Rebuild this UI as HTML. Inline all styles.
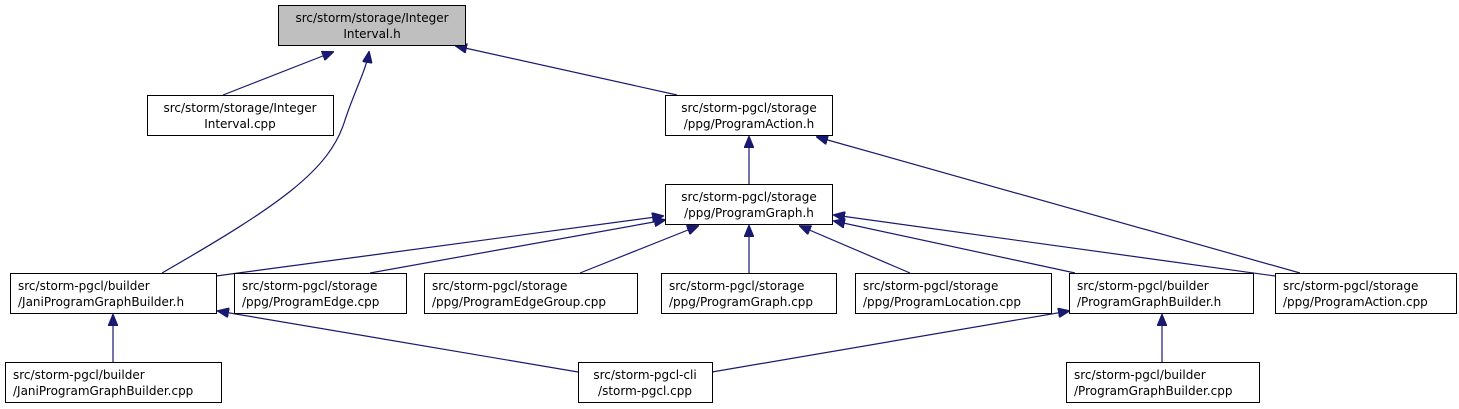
<!DOCTYPE html>
<html><head><meta charset="utf-8"><style>
html,body{margin:0;padding:0;background:#fff;width:1459px;height:409px;overflow:hidden}
text{font-family:"DejaVu Sans","Liberation Sans",sans-serif;font-size:12px;fill:#000}
</style></head><body>
<svg width="1459" height="409" viewBox="0 0 1459 409" xmlns="http://www.w3.org/2000/svg">
<defs><marker id="a" markerWidth="12" markerHeight="10" refX="11" refY="5" orient="auto" markerUnits="userSpaceOnUse"><path d="M0,0 L12,5 L0,10 z" fill="#191970" stroke="#191970"/></marker></defs>
<g stroke="#191970" stroke-width="1.2" fill="none" marker-end="url(#a)">
<line x1="223" y1="95" x2="333" y2="52"/>
<path d="M162,273 C280,205 330,170 345,120 C355,90 366,70 369,52"/>
<line x1="677" y1="95" x2="456" y2="46"/>
<line x1="749" y1="184" x2="749" y2="137"/>
<line x1="1300" y1="273" x2="817" y2="137"/>
<line x1="216" y1="276" x2="663" y2="216"/>
<line x1="370" y1="273" x2="665" y2="220"/>
<line x1="580" y1="273" x2="698" y2="226"/>
<line x1="749" y1="273" x2="749" y2="226"/>
<line x1="910" y1="273" x2="800" y2="226"/>
<line x1="1075" y1="273" x2="834" y2="221"/>
<line x1="1275" y1="276" x2="834" y2="215"/>
<line x1="113" y1="362" x2="113" y2="315"/>
<line x1="578" y1="372" x2="218" y2="311"/>
<line x1="712" y1="372" x2="1069" y2="311"/>
<line x1="1162" y1="362" x2="1162" y2="315"/>
</g>
<g stroke="#000" stroke-width="1" fill="#fff">
<rect x="278.5" y="5.5" width="187" height="40" fill="#bfbfbf"/>
<rect x="147.5" y="95.5" width="186" height="40"/>
<rect x="665.5" y="95.5" width="167" height="40"/>
<rect x="665.5" y="184.5" width="167" height="40"/>
<rect x="10.5" y="273.5" width="206" height="40"/>
<rect x="234.5" y="273.5" width="172" height="40"/>
<rect x="424.5" y="273.5" width="213" height="40"/>
<rect x="661.5" y="273.5" width="175" height="40"/>
<rect x="855.5" y="273.5" width="196" height="40"/>
<rect x="1069.5" y="273.5" width="184" height="40"/>
<rect x="1275.5" y="273.5" width="181" height="40"/>
<rect x="5.5" y="362.5" width="216" height="40"/>
<rect x="578.5" y="362.5" width="134" height="40"/>
<rect x="1066.5" y="362.5" width="193" height="40"/>
</g>
<g text-anchor="middle">
<text x="372" y="22">src/storm/storage/Integer</text><text x="372" y="38">Interval.h</text>
<text x="240" y="112">src/storm/storage/Integer</text><text x="240" y="128">Interval.cpp</text>
<text x="749" y="112">src/storm-pgcl/storage</text><text x="749" y="128">/ppg/ProgramAction.h</text>
<text x="749" y="201">src/storm-pgcl/storage</text><text x="749" y="217">/ppg/ProgramGraph.h</text>
<text x="645" y="379">src/storm-pgcl-cli</text><text x="645" y="395">/storm-pgcl.cpp</text>
</g>
<g>
<text x="18" y="290">src/storm-pgcl/builder</text><text x="18" y="306">/JaniProgramGraphBuilder.h</text>
<text x="242" y="290">src/storm-pgcl/storage</text><text x="242" y="306">/ppg/ProgramEdge.cpp</text>
<text x="432" y="290">src/storm-pgcl/storage</text><text x="432" y="306">/ppg/ProgramEdgeGroup.cpp</text>
<text x="669" y="290">src/storm-pgcl/storage</text><text x="669" y="306">/ppg/ProgramGraph.cpp</text>
<text x="863" y="290">src/storm-pgcl/storage</text><text x="863" y="306">/ppg/ProgramLocation.cpp</text>
<text x="1077" y="290">src/storm-pgcl/builder</text><text x="1077" y="306">/ProgramGraphBuilder.h</text>
<text x="1283" y="290">src/storm-pgcl/storage</text><text x="1283" y="306">/ppg/ProgramAction.cpp</text>
<text x="13" y="379">src/storm-pgcl/builder</text><text x="13" y="395">/JaniProgramGraphBuilder.cpp</text>
<text x="1074" y="379">src/storm-pgcl/builder</text><text x="1074" y="395">/ProgramGraphBuilder.cpp</text>
</g>
</svg>
</body></html>
